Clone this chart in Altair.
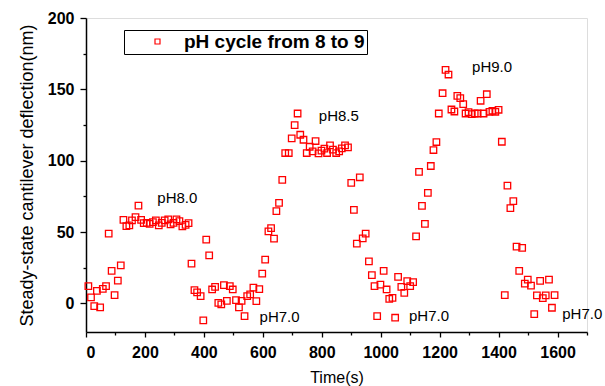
import altair as alt
import pandas as pd

# Cantilever deflection measured while the buffer pH is cycled 8 -> 9
time_s = [
    8, 17, 28, 37, 48, 57, 68, 77, 87, 97, 108, 118, 127, 137, 147, 156, 168, 178,
    187, 196, 206, 216, 227, 237, 247, 257, 267, 279, 287, 297, 307, 317, 327, 338,
    348, 358, 368, 377, 389, 398, 408, 418, 428, 438, 449, 459, 468, 478, 488, 498,
    509, 519, 528, 538, 547, 557, 568, 578, 588, 598, 608, 619, 628, 638, 646, 655,
    666, 676, 688, 698, 708, 718, 727, 738, 749, 759, 769, 779, 789, 799, 809, 818,
    828, 838, 849, 859, 868, 879, 889, 900, 909, 919, 929, 939, 949, 960, 970, 979,
    988, 999, 1010, 1020, 1029, 1040, 1049, 1059, 1070, 1080, 1090, 1100, 1110, 1120,
    1130, 1140, 1150, 1160, 1170, 1179, 1189, 1197, 1210, 1220, 1230, 1240, 1250,
    1260, 1270, 1280, 1288, 1298, 1309, 1319, 1329, 1339, 1349, 1360, 1369, 1379,
    1389, 1400, 1411, 1421, 1430, 1440, 1450, 1461, 1470, 1480, 1489, 1499, 1510,
    1521, 1530, 1541, 1550, 1560, 1571, 1581, 1590,
]
deflection_nm = [
    12.1, 4.2, -1.9, 8.8, -2.8, 10.2, 12.1, 48.9, 22.8, 5.8, 16.0, 26.7, 58.6, 54.2,
    54.7, 58.2, 60.5, 68.6, 58.6, 56.3, 56.5, 55.8, 57.0, 58.2, 54.7, 56.5, 58.2, 58.9,
    55.4, 56.5, 58.9, 57.7, 54.0, 55.1, 56.3, 27.9, 9.3, 7.7, 5.1, -11.9, 44.7, 33.7,
    9.8, 11.6, 0.4, -0.7, 12.8, 1.8, 12.1, 9.8, 2.3, -2.8, 1.8, -8.9, 5.1, 6.3, 11.1,
    1.6, 10.0, 20.9, 30.7, 50.5, 52.8, 45.4, 64.7, 70.5,
    86.6, 105.4, 105.4, 115.7, 125.0, 133.1, 118.2, 114.7, 105.4, 109.8, 106.6, 113.8,
    105.2, 107.1, 108.5, 105.4, 110.8, 107.8, 105.4, 106.6, 108.7, 110.8, 109.4, 84.5,
    65.6, 41.9, 88.4, 45.6, 48.9, 29.5, 19.8, 12.1, -8.9, 13.2, 22.8, 9.8, 3.2, 3.9,
    -10.0, 18.6, 11.6, 7.4, 15.6, 12.1, 14.9, 47.0, 92.2, 68.4, 55.8, 77.5, 96.3,
    107.5, 113.1, 133.1, 147.3, 163.6, 160.4, 135.9, 134.5, 145.5, 143.8, 139.6,
    133.1, 134.1, 132.7, 133.1, 133.1, 142.0, 133.1, 146.6, 134.3, 135.0, 134.3,
    135.7, 113.3, 5.8, 82.6, 66.8, 71.7, 39.8, 22.8, 38.9, 13.9, 16.7, 12.5, -7.5,
    5.6, 15.8, 3.7, 5.6, 16.7, -3.0, 5.8,
]
series_name = "pH cycle from 8 to 9"

# pH step labels placed next to each plateau
ph_labels = ["pH8.0", "pH8.5", "pH9.0", "pH7.0", "pH7.0", "pH7.0"]
ph_time = [310, 858, 1378, 657, 1164, 1684]
ph_level = [74, 131.5, 166, -9.6, -8.9, -7.5]

x_ticks = list(range(0, 1701, 100))
y_ticks = list(range(0, 201, 25))

points_df = pd.DataFrame({"time": time_s, "deflection": deflection_nm, "series": series_name})
labels_df = pd.DataFrame({"time": ph_time, "deflection": ph_level, "label": ph_labels})

FONT = "Liberation Sans"
tick_label_style = dict(
    labelFont=FONT,
    labelFontSize=16,
    labelFontWeight="bold",
    labelColor="black",
    domainColor="black",
    domainWidth=1.5,
    tickColor="black",
    tickWidth=1.3,
    grid=False,
    titleColor="black",
)

x_enc = alt.X(
    "time:Q",
    scale=alt.Scale(domain=[0, 1700], nice=False, zero=False),
    axis=alt.Axis(
        title="Time(s)",
        values=x_ticks,
        format="d",
        labelExpr="datum.value % 200 === 0 ? datum.label : ''",
        tickSize={"condition": {"test": "datum.value % 200 === 0", "value": 5}, "value": 3},
        labelPadding=7,
        titleFont=FONT,
        titleFontSize=16,
        titleFontWeight="normal",
        titleBaseline="alphabetic",
        titleY=50,
        **tick_label_style,
    ),
)
y_enc = alt.Y(
    "deflection:Q",
    scale=alt.Scale(domain=[-20, 200], nice=False, zero=False),
    axis=alt.Axis(
        title="Steady-state cantilever deflection(nm)",
        values=y_ticks,
        format="d",
        labelExpr="datum.value % 50 === 0 ? datum.label : ''",
        tickSize={"condition": {"test": "datum.value % 50 === 0", "value": 6}, "value": 3},
        labelPadding=6,
        titleFont=FONT,
        titleFontSize=18,
        titleFontWeight="normal",
        titleBaseline="alphabetic",
        titleAlign="center",
        titleAngle=270,
        titleX=-54,
        titleY=157,
        **tick_label_style,
    ),
)

points = alt.Chart(points_df).mark_point(
    shape="square", filled=False, size=42, strokeWidth=1.3, opacity=1
).encode(
    x=x_enc,
    y=y_enc,
    color=alt.Color(
        "series:N",
        scale=alt.Scale(range=["#ff0000"]),
        legend=alt.Legend(
            title=None,
            orient="none",
            legendX=38,
            legendY=12,
            strokeColor="black",
            padding=2,
            symbolType="square",
            symbolSize=25,
            symbolStrokeWidth=1.2,
            symbolOpacity=1,
            symbolOffset=22,
            labelOffset=17,
            labelFont=FONT,
            labelFontSize=19,
            labelFontWeight="bold",
            labelColor="black",
            labelLimit=400,
        ),
    ),
)

ph_text = alt.Chart(labels_df).mark_text(
    font=FONT, fontSize=15, color="black", align="center", baseline="middle"
).encode(x=x_enc, y=y_enc, text="label:N")

chart = (
    alt.layer(points, ph_text)
    .properties(
        width=501,
        height=314,
        autosize=alt.AutoSizeParams(type="none"),
        padding={"left": 86, "top": 18, "right": 18, "bottom": 54},
    )
    .configure_view(stroke=None)
    .configure(background="white")
)

chart.save("out.html", embed_options={"renderer": "svg", "actions": False})
